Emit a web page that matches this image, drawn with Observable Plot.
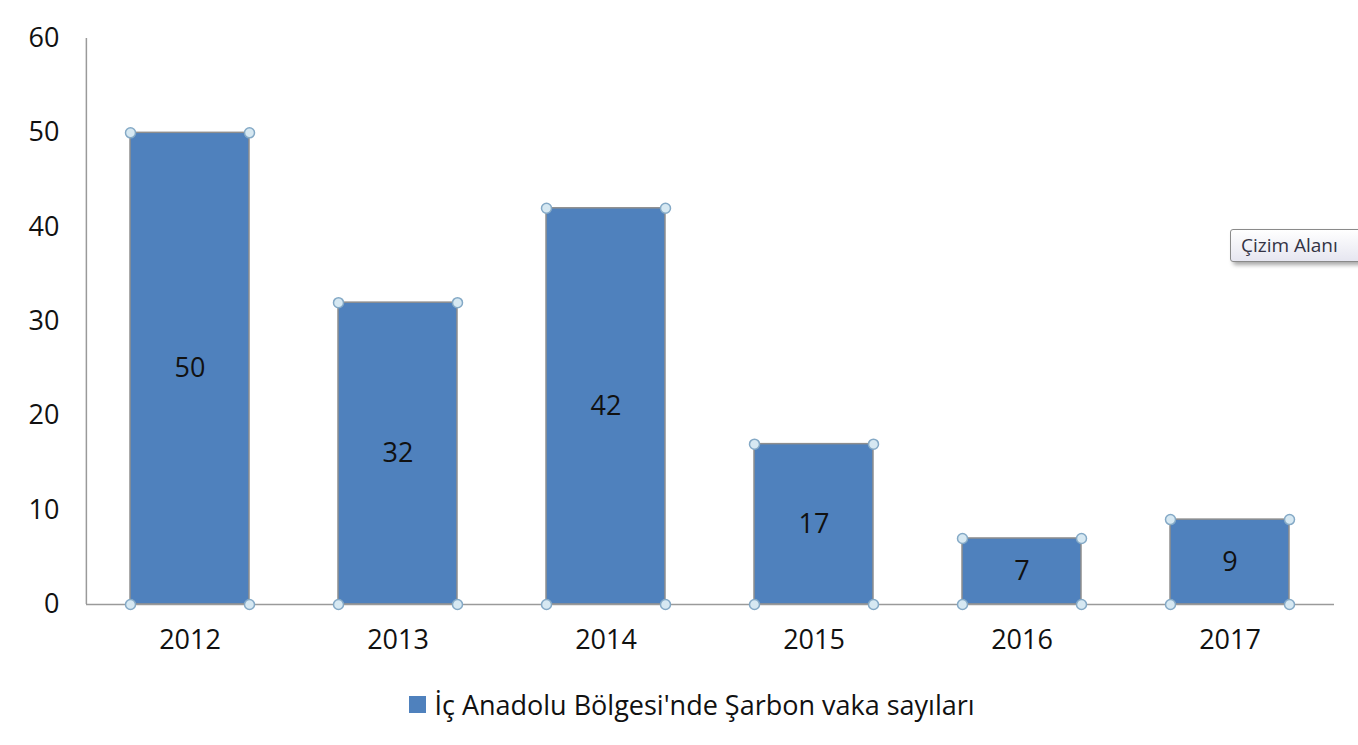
<!DOCTYPE html>
<html>
<head>
<meta charset="utf-8">
<script src="https://cdn.jsdelivr.net/npm/d3@7"></script>
<script src="https://cdn.jsdelivr.net/npm/@observablehq/plot@0.6"></script>
<style>
  html, body { margin: 0; padding: 0; background: #fff; }
  #wrap { position: relative; width: 1358px; height: 745px; overflow: hidden; font-family: "Open Sans", sans-serif; }
  #legend { position: absolute; top: 686px; left: 0; width: 1358px; display: flex; justify-content: center; align-items: center; font-size: 27px; color: #111; padding-left: 26px; box-sizing: border-box; }
  #legend .sw { width: 17px; height: 17px; background: #4f81bd; margin-right: 8px; }
  #tip { position: absolute; left: 1230px; top: 229px; width: 140px; height: 33px; border: 1px solid #8a8a8a; border-radius: 3px;
         background: linear-gradient(#ffffff, #e6e6f0); box-shadow: 3px 3px 4px rgba(0,0,0,0.35); font-size: 19px; color: #333344;
         line-height: 31px; padding-left: 10px; box-sizing: border-box; font-family: "Open Sans", sans-serif; }
</style>
</head>
<body>
<div id="wrap">
  <div id="chart"></div>
  <div id="legend"><div class="sw"></div><span id="legtext"></span></div>
  <div id="tip">Çizim Alanı</div>
</div>
<script>
const years = ["2012", "2013", "2014", "2015", "2016", "2017"];
const cases = [50, 32, 42, 17, 7, 9];
const yTicks = [0, 10, 20, 30, 40, 50, 60];
const seriesName = "İç Anadolu Bölgesi'nde Şarbon vaka sayıları";

const data = years.map((y, i) => ({year: y, value: cases[i]}));
document.getElementById("legtext").textContent = seriesName;

const W = 1358, H = 670;
const xOpts = {domain: years, paddingInner: 0.427, paddingOuter: 0.212};
const yOpts = {domain: [0, 60], ticks: yTicks};

function build(geo) {
  const corners = [];
  for (const d of data) {
    for (const side of [-1, 1]) {
      corners.push({year: d.year, y: d.value, side});
      corners.push({year: d.year, y: 0, side});
    }
  }
  const marks = [
    Plot.barY(data, {x: "year", y: "value", fill: "#4f81bd", stroke: "#8e8e8e", strokeWidth: 1.5}),
    Plot.ruleY([0], {stroke: "#9a9a9a", strokeWidth: 1.5}),
    Plot.text(data, {x: "year", y: d => d.value / 2, text: d => String(d.value), fontSize: 27, fill: "#111"}),
    Plot.axisY({ticks: yTicks, tickSize: 0, tickPadding: 27, fontSize: 27, color: "#111", label: null}),
    Plot.axisX({tickSize: 0, tickPadding: 25, fontSize: 27, color: "#111", label: null})
  ];
  if (geo) {
    // vertical value axis line at the left edge of the x range
    marks.push(Plot.ruleX([years[0]], {y1: 0, y2: 60, dx: geo.leftOffset, stroke: "#9a9a9a", strokeWidth: 1.5}));
    for (const side of [-1, 1]) {
      marks.push(Plot.dot(corners.filter(c => c.side === side), {x: "year", y: "y", dx: side * geo.bw / 2, r: 5, fill: "#d6e8f2", stroke: "#84a9c6", strokeWidth: 1.5}));
    }
  }
  return Plot.plot({
    width: W, height: H,
    marginLeft: 86, marginRight: 24, marginTop: 38, marginBottom: 66,
    style: {fontFamily: "'Open Sans', sans-serif", background: "transparent", overflow: "visible"},
    x: {...xOpts, axis: null},
    y: {...yOpts, axis: null},
    marks
  });
}

const first = build(null);
const xs = first.scale("x");
const bw = xs.bandwidth;
const sc = Plot.scale({x: {type: "band", ...xOpts, range: xs.range}});
const leftOffset = xs.range[0] - (sc.apply(years[0]) + bw / 2);
document.getElementById("chart").appendChild(build({bw, leftOffset}));
</script>
</body>
</html>
